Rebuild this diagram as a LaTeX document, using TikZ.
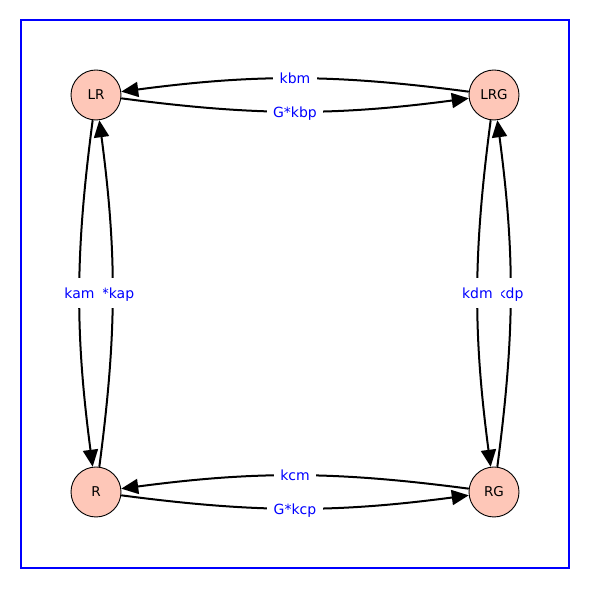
\documentclass[tikz,border=0pt]{standalone}
\usepackage{fontspec}
\setmainfont{DejaVu Sans}
\usetikzlibrary{arrows.meta}
\definecolor{vfill}{HTML}{FEC7B8}
\tikzset{
  vertex/.style={circle, draw=black, line width=0.9pt, fill=vfill, minimum size=50pt, inner sep=0pt, font=\fontsize{13.5}{15}\selectfont},
  edge/.style={line width=2pt, -{Triangle[length=17pt,width=15pt]}, bend right=7.5},
  elabel/.style={fill=white, text=blue, font=\fontsize{14}{16}\selectfont, inner xsep=6.5pt, inner ysep=7.5pt, text height=13pt, text depth=2pt, pos=0.5},
  wlabel/.style={elabel, inner xsep=8.5pt}
}
\begin{document}
\begin{tikzpicture}[x=1pt,y=1pt]
\useasboundingbox (0,0) rectangle (590,589);
\draw[blue, line width=1.4pt] (21,21) rectangle (569,569);
\node[vertex] (LR) at (96,494) {LR};
\node[vertex] (LRG) at (494,494) {LRG};
\node[vertex] (R) at (96,97) {R};
\node[vertex] (RG) at (494,97) {RG};
% top
\draw[edge] (LR) to node[elabel] {G*kbp} (LRG);
\draw[edge] (LRG) to node[elabel] {kbm} (LR);
% bottom
\draw[edge] (R) to node[elabel] {G*kcp} (RG);
\draw[edge] (RG) to node[elabel] {kcm} (R);
% left
\draw[edge] (R) to node[elabel] {G*kap} (LR);
\draw[edge] (LR) to node[wlabel] {kam} (R);
% right
\draw[edge] (RG) to node[elabel] {kdp} (LRG);
\draw[edge] (LRG) to node[wlabel] {kdm} (RG);
\end{tikzpicture}
\end{document}
